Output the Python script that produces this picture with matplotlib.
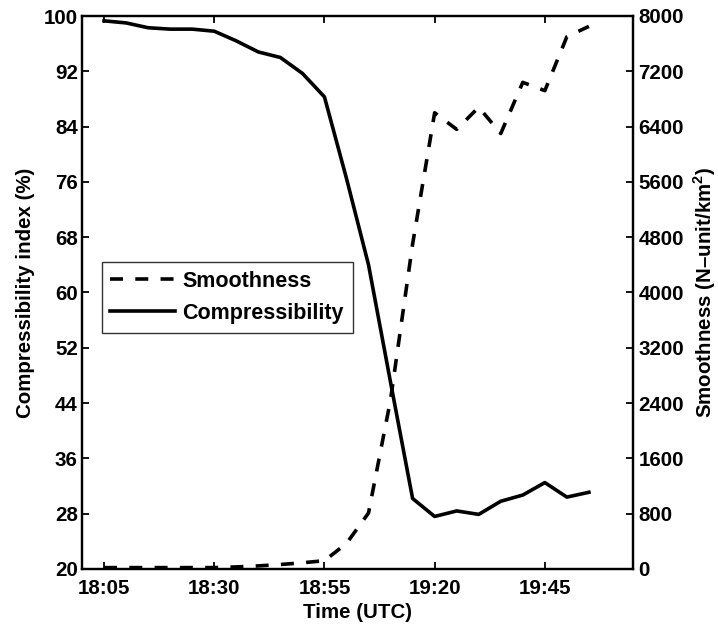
import matplotlib
matplotlib.use("Agg")
import matplotlib.pyplot as plt
import numpy as np

plt.rcParams['font.family'] = ['Liberation Sans', 'DejaVu Sans']
plt.rcParams['font.weight'] = 'bold'
plt.rcParams['mathtext.fontset'] = 'custom'
plt.rcParams['mathtext.rm'] = 'Liberation Sans:bold'
plt.rcParams['mathtext.bf'] = 'Liberation Sans:bold'

# ---- data ----
times = ["18:05", "18:10", "18:15", "18:20", "18:25", "18:30", "18:35", "18:40",
         "18:45", "18:50", "18:55", "19:00", "19:05", "19:10", "19:15", "19:20",
         "19:25", "19:30", "19:35", "19:40", "19:45", "19:50", "19:55"]
compressibility = [99.3, 99.0, 98.3, 98.1, 98.1, 97.8, 96.4, 94.8, 94.0, 91.7,
                   88.3, 76.5, 64.0, 47.0, 30.2, 27.6, 28.4, 27.9, 29.8, 30.7,
                   32.5, 30.4, 31.1]
smoothness = [20, 20, 20, 20, 20, 20, 30, 45, 65, 90, 120, 370, 810, 2450, 4700,
              6600, 6360, 6680, 6300, 7040, 6920, 7700, 7850]
xtick_labels = ["18:05", "18:30", "18:55", "19:20", "19:45"]
left_ticks = list(range(20, 101, 8))
right_ticks = list(range(0, 8001, 800))


def to_min(s):
    h, m = s.split(":")
    return (int(h) - 18) * 60 + int(m)


x = [to_min(t) for t in times]
xt = [to_min(t) for t in xtick_labels]

fig = plt.figure(figsize=(7.18, 6.28), dpi=100)
ax = fig.add_axes([82 / 718, 59 / 628, 551 / 718, 553 / 628])
ax2 = ax.twinx()

FS = 14.8
l2, = ax2.plot(x, smoothness, color='black', lw=2.6, ls=(0, (3.6, 3.4)),
               label='Smoothness')
l1, = ax.plot(x, compressibility, color='black', lw=2.6, label='Compressibility')

ax.set_xlim(0, 125)
ax.set_ylim(20, 100)
ax2.set_ylim(0, 8000)
ax.set_xticks(xt)
ax.set_xticklabels(xtick_labels)
ax.set_yticks(left_ticks)
ax2.set_yticks(right_ticks)

for a in (ax, ax2):
    for sp in a.spines.values():
        sp.set_linewidth(1.6)
ax.tick_params(axis='both', direction='in', length=5, width=1.3,
               labelsize=FS, top=True)
ax.tick_params(axis='x', pad=7)
ax.tick_params(axis='y', pad=3)
ax2.tick_params(axis='y', direction='in', length=5, width=1.3,
                labelsize=FS, pad=4)

ax.set_xlabel('Time (UTC)', fontsize=FS, fontweight='bold', labelpad=4)
ax.set_ylabel('Compressibility index (%)', fontsize=FS, fontweight='bold',
              labelpad=6)
ax2.set_ylabel(r'Smoothness (N–unit/km$^\mathbf{2}$)', fontsize=FS,
               fontweight='bold', labelpad=5)

leg = ax.legend(handles=[l2, l1], loc='upper left',
                bbox_to_anchor=(0.036, 0.555), fontsize=15.5, frameon=True,
                fancybox=False, edgecolor='black', handlelength=3.0,
                handletextpad=0.35, borderpad=0.4, borderaxespad=0,
                labelspacing=0.52)
leg.get_frame().set_linewidth(1.0)
leg.set_zorder(5)

fig.savefig('out.png', dpi=100)
